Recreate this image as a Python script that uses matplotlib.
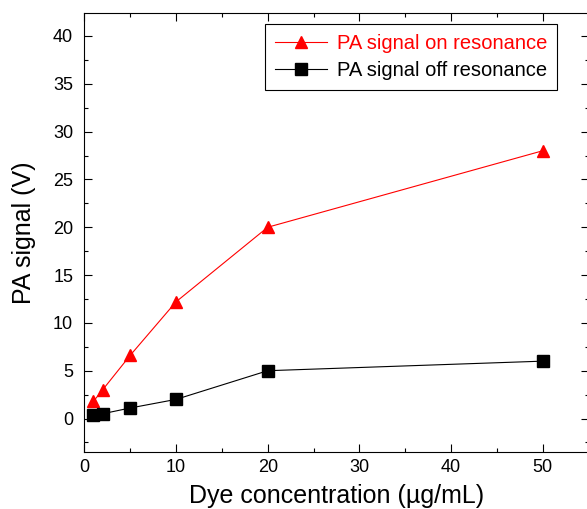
import matplotlib
matplotlib.use("Agg")
import matplotlib.pyplot as plt
from matplotlib.ticker import MultipleLocator

plt.rcParams['font.family'] = ['Liberation Sans', 'DejaVu Sans']

# Dye concentration (ug/mL)
conc = [1, 2, 5, 10, 20, 50]
# PA signal (V)
on_res = [1.8, 3.0, 6.6, 12.2, 20.0, 28.0]
off_res = [0.4, 0.5, 1.1, 2.0, 5.0, 6.0]

fig = plt.figure(figsize=(5.87, 5.09), dpi=100)
ax = fig.add_axes([84.3 / 587, 1 - 452 / 509, 504.4 / 587, 439 / 509])

ax.plot(conc, on_res, color='red', lw=0.8, marker='^', ms=8,
        label='PA signal on resonance')
ax.plot(conc, off_res, color='black', lw=0.8, marker='s', ms=8,
        label='PA signal off resonance')

ax.set_xlim(0, 55)
ax.set_ylim(-3.5, 42.4)
ax.xaxis.set_major_locator(MultipleLocator(10))
ax.xaxis.set_minor_locator(MultipleLocator(5))
ax.yaxis.set_major_locator(MultipleLocator(5))
ax.yaxis.set_minor_locator(MultipleLocator(2.5))
ax.tick_params(which='both', direction='in', top=True, right=True,
               labelsize=13, width=0.8)
ax.tick_params(which='major', length=6)
ax.tick_params(which='minor', length=3)
ax.tick_params(axis='x', which='major', pad=5)
ax.tick_params(axis='y', which='major', pad=8)
for s in ax.spines.values():
    s.set_linewidth(0.8)

ax.set_xlabel('Dye concentration (µg/mL)', fontsize=18, labelpad=6)
ax.set_ylabel('PA signal (V)', fontsize=18, labelpad=12)

leg = ax.legend(loc='upper right', bbox_to_anchor=(557 / 587, 1 - 24 / 509),
                bbox_transform=fig.transFigure, fontsize=14.5, fancybox=False,
                edgecolor='black', framealpha=1, borderpad=0.5,
                handlelength=2.6, handletextpad=0.45, labelspacing=0.4,
                borderaxespad=0)
leg.get_frame().set_linewidth(0.8)
leg.get_texts()[0].set_color('red')

fig.savefig('out.png', dpi=100)
